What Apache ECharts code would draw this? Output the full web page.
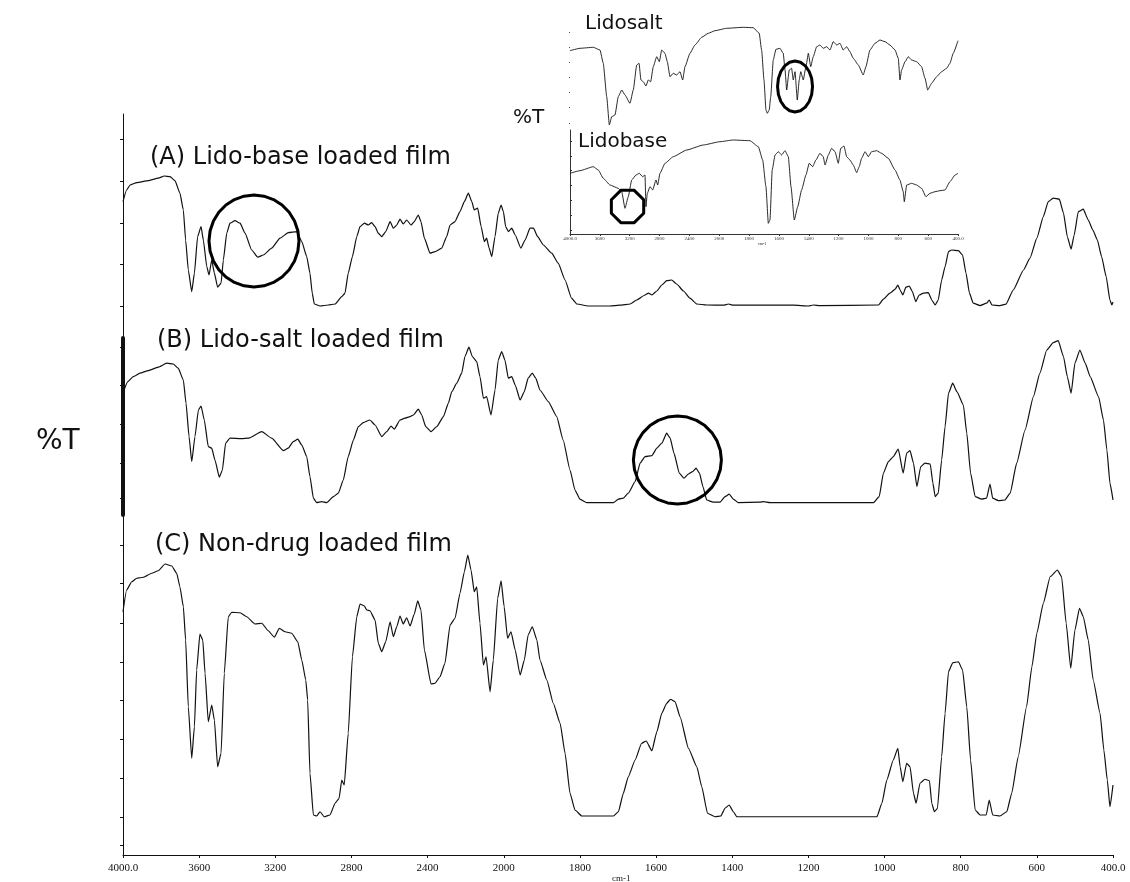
<!DOCTYPE html>
<html>
<head>
<meta charset="utf-8">
<script src="https://cdn.jsdelivr.net/npm/echarts@6/dist/echarts.min.js"></script>
<style>
  html, body { margin: 0; padding: 0; background: #fff; }
  #chart { width: 1130px; height: 882px; }
</style>
</head>
<body>
<div id="chart"></div>
<script>
// Wavenumber tick labels (cm-1); the scale changes at 2000 cm-1
const waveTickLabels = ['4000.0', '3600', '3200', '2800', '2400', '2000', '1800', '1600', '1400', '1200', '1000', '800', '600', '400.0'];

// FTIR spectra as [wavenumber (cm-1), transmittance] pairs
const lidoBaseFilm = [[4000,52.2],[3981,58],[3963,60.5],[3928,61.7],[3867,62.7],[3815,63.9],[3783,65],[3753,64.7],[3727,62.7],[3701,56.4],[3683,48],[3671,33],[3657,18],[3639,7.2],[3625,16.4],[3608,34.7],[3590,39.7],[3578,33],[3560,19.7],[3548,15.5],[3534,23],[3520,16.4],[3503,9.4],[3485,11.4],[3473,23],[3455,36.4],[3438,41.4],[3412,42.7],[3385,41.4],[3359,36.4],[3324,28],[3292,24.4],[3263,25.5],[3219,28.9],[3175,33.9],[3132,36.7],[3088,37.2],[3061,32.2],[3035,24.7],[3018,16.4],[3006,6.4],[2995,1],[2965,0],[2922,0.5],[2886,1],[2851,4.7],[2834,6.4],[2817,16.4],[2795,24.7],[2772,34.7],[2755,39.7],[2732,41.4],[2711,40.5],[2694,41.7],[2676,39.7],[2659,36.4],[2641,34.7],[2620,37.2],[2597,42.2],[2580,38.9],[2562,40.5],[2545,43.4],[2528,41],[2510,43],[2487,40.5],[2470,42.2],[2449,45.5],[2435,42.2],[2417,33.9],[2387,26.4],[2361,27.2],[2326,28.9],[2300,34.7],[2282,40.5],[2256,42.2],[2230,47.2],[2207,52.2],[2186,56.4],[2168,52.2],[2155,48],[2137,48.9],[2119,39.7],[2102,32.2],[2090,33.9],[2077,28.9],[2063,24.7],[2046,34.7],[2029,46.4],[2014,50.5],[2002,47.2],[1995,39.7],[1988,37.2],[1979,38.9],[1970,35.5],[1955,28.9],[1944,33],[1931,38.9],[1922,38.9],[1911,34.7],[1896,30.5],[1874,26.4],[1857,21.4],[1839,13],[1822,3.9],[1808,1],[1778,0],[1721,0],[1695,0.4],[1668,1],[1651,3],[1629,5.5],[1620,6.4],[1611,5.5],[1598,7.5],[1585,10.5],[1572,12.7],[1559,13],[1546,11],[1528,7.5],[1511,3.9],[1493,1],[1467,0.5],[1423,0.4],[1410,1],[1397,0.4],[1239,0.4],[1200,0],[1187,0.5],[1169,0.2],[1016,0.5],[1003,3.4],[986,6.4],[972,8.4],[965,10.5],[959,8],[952,5.5],[944,9.4],[935,10],[927,7.2],[918,2.2],[909,5.5],[898,6.4],[885,6.7],[876,3],[867,0.5],[859,3],[850,13],[841,19.7],[832,27.2],[824,28],[806,27.7],[795,25.5],[786,16.4],[777,6.4],[767,1.4],[749,0.2],[732,1.4],[725,3],[718,0.5],[697,0.2],[681,0.9],[662,8],[635,18],[618,23.9],[600,33.9],[583,44.7],[570,52.2],[557,53.9],[541,53.4],[530,46.4],[520,34.7],[510,28.4],[502,35.5],[491,47.2],[478,48.4],[465,43],[453,38],[441,33],[430,24.7],[418,14.7],[408,3],[403,0.5],[400,2]];

const lidoSaltFilm = [[4000,55],[3975,60.7],[3946,63.2],[3911,64.9],[3867,66.2],[3815,67.9],[3770,69.9],[3736,69.5],[3710,67.4],[3683,61.5],[3669,49.9],[3653,33.2],[3639,20.7],[3622,33.2],[3604,46.5],[3590,48.5],[3573,41.5],[3552,28.2],[3534,27.4],[3517,21.5],[3494,12.9],[3478,16.5],[3461,29.9],[3438,32.4],[3377,32.2],[3342,32.4],[3271,35.7],[3219,32.4],[3158,26.2],[3132,27.4],[3106,30.7],[3082,31.9],[3061,29],[3035,23.2],[3018,13.2],[3000,2.4],[2983,0.2],[2956,0.7],[2930,0.2],[2895,3.2],[2869,4.9],[2843,11.5],[2817,23.2],[2790,31.5],[2764,38.2],[2738,40.2],[2703,41.5],[2676,39],[2641,33.2],[2615,35.7],[2592,38.5],[2575,36.9],[2545,41.5],[2519,42.4],[2492,43.2],[2475,44],[2449,46.9],[2431,44],[2410,38.2],[2382,35.7],[2352,38.2],[2317,43.2],[2291,49.9],[2273,55.7],[2247,59.9],[2221,64.9],[2204,73.2],[2183,77.9],[2165,73.2],[2142,70.7],[2125,63.2],[2107,52.4],[2090,53.2],[2067,44],[2046,56.5],[2029,71.5],[2011,75.7],[1997,71.5],[1988,62.4],[1979,63.2],[1970,59],[1957,51.5],[1946,55.7],[1936,62.4],[1925,64.9],[1916,62.4],[1905,56.5],[1883,50.7],[1861,43.2],[1844,31.5],[1826,16.5],[1813,6.5],[1800,1.9],[1782,0.2],[1712,0.2],[1699,1.9],[1686,2.4],[1673,4.9],[1655,10.7],[1642,19.9],[1629,23.2],[1611,23.7],[1598,27.4],[1585,29.9],[1572,34.9],[1563,32.4],[1553,24.9],[1539,14.9],[1527,12.4],[1515,14.5],[1504,15.7],[1495,17.4],[1486,14.9],[1477,8.2],[1467,1.5],[1450,0.4],[1432,0.4],[1419,3.2],[1408,4.4],[1397,1.9],[1384,0.2],[1327,0.4],[1318,0.7],[1301,0.2],[1029,0.2],[1014,3.2],[1003,14.9],[990,20.7],[977,23.2],[964,26.9],[951,14.9],[942,24.9],[933,26.2],[924,19.9],[915,8.2],[905,18.2],[894,19.9],[880,19.5],[873,9.9],[867,3.2],[859,4.9],[850,21.5],[841,38.2],[832,54.9],[821,59.9],[810,55.7],[793,49],[784,34.9],[774,14.9],[762,3.2],[745,1.9],[732,2.4],[723,9.5],[716,2.4],[701,1.2],[684,1.5],[670,4.9],[653,19.9],[631,36.5],[609,53.2],[592,64.9],[574,76.5],[557,80.2],[544,81.2],[530,73.2],[520,63.2],[510,54.9],[500,69.9],[487,76.5],[473,69.9],[460,63.2],[438,53.2],[425,41.5],[416,26.5],[408,9.9],[400,1.5]];

const nonDrugFilm = [[4000,82.1],[3981,90.8],[3954,94.1],[3928,95.5],[3893,95.9],[3849,97.5],[3815,98.5],[3779,101.2],[3744,100.4],[3718,97.5],[3701,92.1],[3683,84.1],[3671,70.8],[3657,44.1],[3639,23.5],[3625,36.1],[3613,58.8],[3596,73.2],[3581,70.8],[3569,57.5],[3552,38.1],[3534,44.8],[3520,38.8],[3503,20.1],[3485,25.5],[3468,57.5],[3447,80.1],[3429,81.9],[3385,81.7],[3350,80.1],[3307,77.2],[3271,77.5],[3237,74.5],[3205,71.9],[3179,75.5],[3149,74.1],[3114,73.5],[3082,70.1],[3061,62.8],[3040,54.8],[3030,46.8],[3018,17.5],[3000,0.8],[2983,0.4],[2965,2.1],[2943,0.1],[2913,0.8],[2886,5.5],[2865,7.5],[2851,14.8],[2838,12.8],[2817,33.5],[2795,64.1],[2772,80.1],[2755,85.2],[2732,84.4],[2720,82.8],[2703,82.5],[2676,78.8],[2659,69.5],[2641,66.1],[2620,70.1],[2597,78.1],[2580,72.1],[2562,76.1],[2545,80.4],[2528,77.2],[2510,79.7],[2492,76.4],[2470,81.2],[2452,86.5],[2435,82.8],[2417,66.8],[2382,53.2],[2361,53.5],[2335,56.1],[2309,61.5],[2282,76.8],[2256,79.5],[2230,89.5],[2207,98.1],[2189,104.8],[2172,98.8],[2155,90.1],[2142,92.1],[2125,77.5],[2107,60.8],[2093,64.1],[2072,50.1],[2055,62.8],[2032,87.5],[2014,94.5],[1999,84.1],[1990,71.5],[1981,74.1],[1970,66.8],[1957,56.8],[1946,62.8],[1936,72.8],[1925,76.1],[1913,70.8],[1905,62.8],[1887,54.8],[1870,45.5],[1852,37.5],[1839,25.5],[1826,9.5],[1813,2.8],[1795,0.4],[1712,0.4],[1699,2.1],[1686,9.5],[1673,16.1],[1655,22.8],[1638,29.5],[1626,30.4],[1611,26.5],[1598,34.1],[1585,41.5],[1572,45.5],[1562,47.1],[1550,46.1],[1537,40.1],[1515,27.5],[1493,20.1],[1480,12.1],[1465,1.5],[1445,0.1],[1430,0.4],[1419,3.5],[1408,4.8],[1397,2.1],[1388,0.1],[1020,0.1],[1007,5.5],[994,14.8],[977,22.8],[965,27.5],[959,20.1],[952,14.1],[942,21.5],[933,20.1],[924,9.5],[917,5.5],[907,13.5],[894,15.1],[882,14.5],[876,5.5],[869,2.1],[861,3.5],[850,24.1],[841,41.5],[832,58.1],[821,61.7],[806,62.1],[795,58.8],[784,44.1],[774,22.8],[762,2.8],[749,0.8],[733,0.8],[725,6.8],[716,0.8],[697,0.4],[679,2.1],[666,9.5],[649,24.1],[627,44.1],[613,60.1],[600,73.5],[583,85.5],[565,96.1],[546,98.8],[535,96.1],[523,77.5],[511,59.5],[500,74.8],[488,83.5],[478,80.1],[465,70.8],[452,54.8],[434,41.5],[424,26.8],[415,14.8],[408,4.1],[400,12.8]];

const lidoSalt = [[4000,75.3],[3866,77.7],[3688,78.7],[3598,76],[3554,62.7],[3508,29.3],[3473,1],[3441,9.3],[3397,11],[3353,29.3],[3307,36],[3263,31],[3196,22.7],[3152,36],[3106,61],[3075,62.7],[3049,46],[3018,44.3],[2982,40],[2951,46],[2919,44.3],[2884,59.3],[2838,69.3],[2803,64.3],[2771,76],[2727,72.7],[2696,64.3],[2660,49.3],[2616,52.7],[2570,51],[2526,54.3],[2490,46],[2459,59.3],[2392,72.7],[2325,81],[2235,88.7],[2147,92.7],[2057,95.3],[1950,97.7],[1839,98.7],[1772,98.3],[1732,92.7],[1716,76],[1700,46],[1687,16],[1678,12.7],[1665,16],[1655,29.3],[1638,66],[1620,76.7],[1593,77.7],[1571,72.7],[1559,56],[1548,36],[1531,56],[1515,57.7],[1504,46],[1492,54.3],[1477,26],[1464,46],[1454,54.3],[1437,46],[1419,59.3],[1403,72.7],[1387,59.3],[1370,69.3],[1347,79.3],[1325,81],[1303,77.7],[1280,79.3],[1258,76],[1236,84.3],[1213,81],[1191,82.7],[1169,76],[1146,79.3],[1124,74.3],[1102,67.7],[1068,61],[1035,51],[1017,59.3],[990,76],[956,82.7],[923,86],[889,84.3],[856,81],[822,76],[800,67.7],[789,46],[778,56],[755,64.3],[733,69.3],[711,66],[677,64.3],[644,59.3],[621,47.7],[603,36],[577,42.7],[543,49.3],[510,54.3],[476,57.7],[454,62.7],[432,72.7],[400,85.3]];

const lidoBase = [[4000,52.7],[3866,55.3],[3688,59.3],[3621,56],[3554,47.7],[3464,41],[3353,37.7],[3307,34.3],[3263,17.7],[3219,29.3],[3173,46],[3116,51],[3071,52.7],[3026,49.3],[2995,51],[2982,19.3],[2964,32.7],[2928,39.3],[2892,36],[2848,46],[2825,41],[2794,52.7],[2727,62.7],[2616,69.3],[2436,76],[2214,81],[1995,84.3],[1906,86],[1794,85.3],[1738,79.3],[1709,66],[1687,39.3],[1671,2.7],[1660,6],[1645,56],[1626,71],[1604,74.3],[1582,71],[1559,75.3],[1537,69.3],[1519,39.3],[1497,6],[1474,19.3],[1448,36],[1419,51],[1397,62.7],[1374,59.3],[1352,66],[1325,72.7],[1303,69.3],[1291,61],[1269,71],[1247,77.7],[1224,74.3],[1202,62.7],[1186,77.7],[1164,80],[1146,69.3],[1124,66],[1102,61],[1079,53.3],[1062,59.3],[1046,67.7],[1023,74.3],[1001,69.3],[979,74.3],[945,75.3],[912,72.7],[867,67.7],[822,56],[789,46],[767,34.3],[760,24.3],[744,41],[711,42.7],[677,41],[644,37.7],[615,29.3],[588,32.7],[554,34.3],[521,35.3],[487,36],[454,44.3],[420,51],[400,52.7]];

// Unlabelled transmittance tick positions for each panel
const ticksBaseFilm = [0, 21, 41.5, 62.5, 83.5];
const ticksSaltFilm = [2.5, 20, 39.5, 59, 78];
const ticksNonDrug = [-11.2, 0, 15.6, 31.2, 46.8, 62, 77.6, 93.6, 108.8];
const ticksInsetSalt = [3, 19, 34, 49, 64, 79, 94];
const ticksInsetBase = [-4, 11, 26, 41, 56, 70, 85];

// Axis position: 400 cm-1 per division above 2000 cm-1, 200 cm-1 per division below
function toAxis(w) {
  return w >= 2000 ? (4000 - w) / 400 : 5 + (2000 - w) / 200;
}

const INK = '#111';
const SANS = 'DejaVu Sans';

function gridBox(left, top, width, height) {
  return { left, top, width, height, containLabel: false, outerBoundsMode: 'none' };
}

function hiddenX(gi) {
  return { gridIndex: gi, type: 'value', min: 0, max: 13, interval: 1, show: false };
}

function labelledX(gi, fontSize, margin, tickLen, color) {
  return {
    gridIndex: gi, type: 'value', min: 0, max: 13, interval: 1,
    axisLine: { show: true, onZero: false, lineStyle: { color: color, width: 1 } },
    axisTick: { show: true, length: tickLen, lineStyle: { color: color, width: 1 } },
    splitLine: { show: false },
    axisLabel: {
      show: true, margin: margin, fontFamily: 'Liberation Serif', fontSize: fontSize, color: color,
      showMinLabel: true, showMaxLabel: true,
      formatter: v => waveTickLabels[Math.round(v)]
    }
  };
}

function yAx(gi, min, max, ticks, opts) {
  return {
    gridIndex: gi, type: 'value', min: min, max: max,
    axisLine: { show: opts.line, onZero: false, lineStyle: { color: opts.color || INK, width: opts.width || 1 } },
    axisTick: { show: true, customValues: ticks, inside: !!opts.inside, length: opts.tick, lineStyle: { color: opts.color || INK, width: 1 } },
    axisLabel: { show: false },
    splitLine: { show: false }
  };
}

function spectrum(i, pts, width) {
  return {
    type: 'line', xAxisIndex: i, yAxisIndex: i,
    data: pts.map(p => [toAxis(p[0]), p[1]]),
    symbol: 'none', showSymbol: false, smooth: 0.15, smoothMonotone: 'x',
    lineStyle: { color: INK, width: width }, silent: true, z: 2
  };
}

const chart = echarts.init(document.getElementById('chart'), null, { renderer: 'canvas', width: 1130, height: 882 });

chart.setOption({
  animation: false,
  backgroundColor: '#ffffff',
  grid: [
    gridBox(123, 114, 990, 224),   // (A) film with lidocaine base
    gridBox(123, 338, 990, 177),   // (B) film with lidocaine salt
    gridBox(123, 515, 990, 340),   // (C) film without drug
    gridBox(570, 20, 388, 108),    // inset: lidocaine salt
    gridBox(570, 130, 388, 104)    // inset: lidocaine base
  ],
  xAxis: [
    hiddenX(0), hiddenX(1),
    labelledX(2, 11, 8, 3, INK),
    hiddenX(3),
    labelledX(4, 5, 2, 2, '#333')
  ],
  yAxis: [
    yAx(0, -16, 96, ticksBaseFilm, { line: true, tick: 3 }),
    yAx(1, -6, 82.5, ticksSaltFilm, { line: true, width: 4, tick: 3 }),
    yAx(2, -15.2, 120.8, ticksNonDrug, { line: true, tick: 3 }),
    yAx(3, -2, 106, ticksInsetSalt, { line: false, tick: 1, color: '#555' }),
    yAx(4, -8, 96, ticksInsetBase, { line: true, tick: 2, inside: true, color: '#333' })
  ],
  series: [
    spectrum(0, lidoBaseFilm, 1.2),
    spectrum(1, lidoSaltFilm, 1.2),
    spectrum(2, nonDrugFilm, 1.2),
    spectrum(3, lidoSalt, 0.9),
    spectrum(4, lidoBase, 0.9)
  ]
});

// Highlight rings around the bands of interest, anchored in data coordinates
function ringPoints(seriesIndex, wn, t, rx, ry, sides, phase) {
  const c = chart.convertToPixel({ seriesIndex: seriesIndex }, [toAxis(wn), t]);
  const pts = [];
  for (let k = 0; k < sides; k++) {
    const a = phase + k * 2 * Math.PI / sides;
    pts.push([c[0] + rx * Math.cos(a), c[1] + ry * Math.sin(a)]);
  }
  return pts;
}

function ring(points) {
  return {
    type: 'polygon', shape: { points: points }, silent: true, z: 20,
    style: { fill: 'none', stroke: '#000', lineWidth: 3, lineJoin: 'round' }
  };
}

function label(text, x, y, size, family, align) {
  return {
    type: 'text', x: x, y: y, silent: true, z: 30,
    style: {
      text: text, fontSize: size, fontFamily: family, fill: INK,
      align: align || 'left', verticalAlign: 'middle',
      textAlign: align || 'left', textVerticalAlign: 'middle'
    }
  };
}

chart.setOption({
  graphic: [
    ring(ringPoints(0, 3312, 32.5, 45, 46, 28, 0)),
    ring(ringPoints(1, 1544, 21.5, 44, 44, 28, 0)),
    ring(ringPoints(3, 1492, 39.5, 17.5, 25.5, 20, 0)),
    ring(ringPoints(4, 3229, 19.5, 17.5, 17.5, 8, Math.PI / 8)),
    label('(A) Lido-base loaded film', 150, 158, 24, SANS),
    label('(B) Lido-salt loaded film', 157, 341, 24, SANS),
    label('(C) Non-drug loaded film', 155, 545, 24, SANS),
    label('%T', 36, 442, 28, SANS),
    label('%T', 513, 118, 20, SANS),
    label('Lidosalt', 585, 24, 20, SANS),
    label('Lidobase', 578, 142, 20, SANS),
    label('cm-1', 612, 879, 9, 'Liberation Serif'),
    label('cm-1', 758, 244, 4, 'Liberation Serif')
  ]
});
</script>
</body>
</html>
